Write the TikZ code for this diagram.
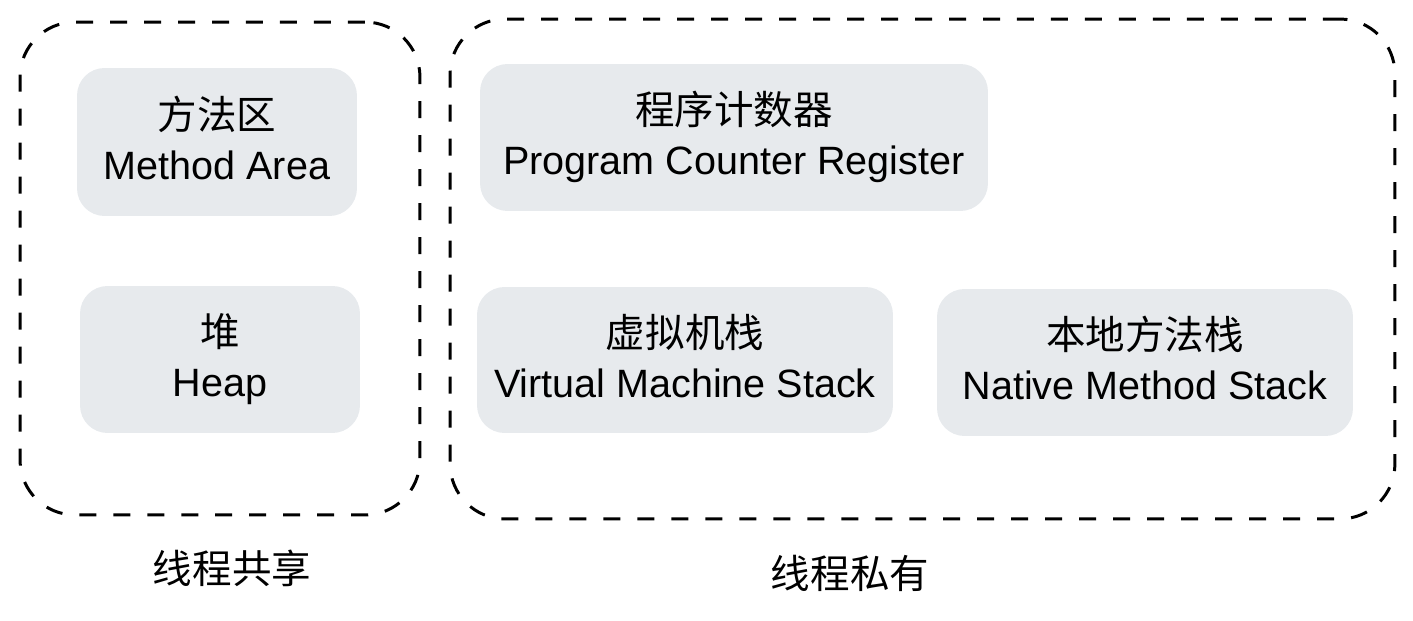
\documentclass[tikz,border=0pt]{standalone}
\usepackage{fontspec}
\setmainfont{Liberation Sans}
\newfontfamily\cjk{Noto Sans CJK SC}
\usepackage{tikz}
\definecolor{areagray}{HTML}{E7EAED}
\tikzset{
  mem_txt/.style = {align=center, inner sep=0pt, text centered,
    font=\fontsize{22.5}{28.5}\selectfont},
  mem_area/.style = {mem_txt, rectangle, rounded corners=0.55cm, fill=areagray,
    draw=none, text depth=5pt},% bloc de memoire
  mem_group/.style = {rectangle, rounded corners=1.1cm, draw=black,
    line width=1.7pt, dash pattern=on 0.34cm off 0.34cm, inner sep=0pt},% groupe pointille
  mem_lbl/.style = {mem_txt, font=\fontsize{22.5}{28.5}\selectfont\cjk}% legende du groupe
}

\begin{document}
\begin{tikzpicture}[x=0.02cm,y=-0.02cm]
    \useasboundingbox (0,0) rectangle (1413,621);
    % groupes
    \node [mem_group, minimum width=8cm, minimum height=9.86cm] (shared) at (220,268.5) {};
    \node [mem_group, minimum width=18.9cm, minimum height=10cm] (private) at (922.5,269) {};
    % zones partagees
    \node [mem_area, minimum width=5.6cm, minimum height=2.96cm] (method) at (217,142)
        {{\cjk 方法区}\\Method Area};
    \node [mem_area, minimum width=5.6cm, minimum height=2.94cm] (heap) at (220,359.5)
        {{\cjk 堆}\\Heap};
    % zones privees
    \node [mem_area, minimum width=10.16cm, minimum height=2.94cm] (pc) at (734,137.5)
        {{\cjk 程序计数器}\\Program Counter Register};
    \node [mem_area, minimum width=8.32cm, minimum height=2.92cm] (vms) at (685,360)
        {{\cjk 虚拟机栈}\\Virtual Machine Stack};
    \node [mem_area, minimum width=8.32cm, minimum height=2.94cm] (nms) at (1145,362.5)
        {{\cjk 本地方法栈}\\Native Method Stack};
    % legendes
    \node [mem_lbl] (shared_lbl) at (232,568) {线程共享};
    \node [mem_lbl] (private_lbl) at (850,573) {线程私有};
\end{tikzpicture}
\end{document}
